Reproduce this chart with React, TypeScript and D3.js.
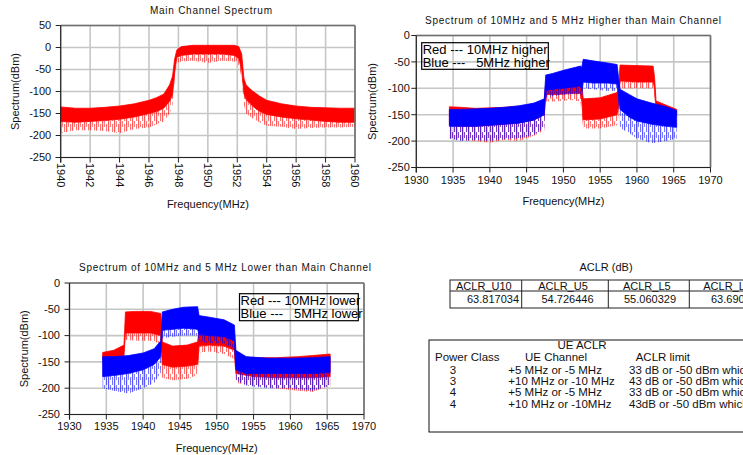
import React from 'react';
import * as d3 from 'd3';

// main channel spectrum (red), envelope: top of dense band, bottom of dense band, lowest spikes
const mainFreq = [1940, 1941, 1942, 1943, 1944, 1945, 1946, 1946.5, 1947, 1947.4, 1947.6, 1947.75, 1947.9, 1948.2, 1949, 1950, 1951, 1951.8, 1952.1, 1952.3, 1952.45, 1952.6, 1953, 1953.5, 1954, 1955, 1956, 1957, 1958, 1959, 1960];
const mainTop = [-135, -138, -138, -136, -133, -128, -120, -114, -106, -85, -65, -25, -5, 2, 5, 5, 5, 5, 2, -15, -70, -85, -98, -110, -120, -128, -133, -136, -137, -138, -138];
const mainBot = [-168, -170, -168, -166, -163, -158, -150, -146, -138, -122, -108, -55, -22, -18, -15, -15, -15, -18, -25, -50, -105, -118, -132, -145, -152, -158, -162, -165, -168, -170, -170];
const mainMin = [-195, -188, -188, -190, -195, -185, -182, -175, -168, -150, -130, -70, -35, -32, -30, -35, -30, -32, -40, -70, -130, -150, -160, -170, -178, -180, -185, -183, -182, -182, -180];

// 10 MHz higher (red) and 5 MHz higher (blue)
const hiRedFreq = [1934.5, 1936, 1938, 1940, 1942, 1944, 1946, 1947.4, 1947.6, 1949, 1951, 1952.3, 1952.5, 1952.7, 1955, 1957.3, 1957.5, 1957.7, 1960, 1962.2, 1962.4, 1962.6, 1964, 1965.4];
const hiRedTop = [-135, -136, -138, -137, -136, -134, -130, -125, -88, -88, -92, -88, -95, -120, -118, -108, -100, -56, -57, -58, -80, -124, -132, -140];
const hiRedBot = [-170, -172, -172, -170, -168, -165, -160, -150, -112, -112, -110, -110, -125, -160, -158, -150, -130, -86, -88, -88, -100, -140, -145, -150];
const hiRedMin = [-195, -198, -200, -203, -198, -200, -190, -180, -125, -125, -122, -125, -150, -176, -176, -170, -150, -100, -100, -100, -120, -150, -150, -155];

const hiBlueFreq = [1934.5, 1936, 1938, 1940, 1942, 1944, 1946, 1947.4, 1947.6, 1948.5, 1950, 1952.3, 1952.5, 1952.7, 1954, 1956, 1957.3, 1957.5, 1957.7, 1959, 1960, 1962, 1964, 1965.4];
const hiBlueTop = [-140, -140, -139, -138, -136, -133, -128, -120, -75, -72, -66, -58, -60, -45, -48, -52, -55, -80, -102, -112, -120, -128, -135, -142];
const hiBlueBot = [-172, -172, -172, -170, -168, -166, -160, -150, -104, -102, -100, -96, -105, -88, -90, -90, -92, -115, -140, -155, -162, -168, -172, -174];
const hiBlueMin = [-195, -200, -198, -200, -196, -195, -188, -175, -118, -115, -112, -110, -120, -100, -102, -105, -105, -135, -175, -185, -195, -204, -200, -195];

// 10 MHz lower (red) and 5 MHz lower (blue)
const loRedFreq = [1934.5, 1936, 1937.4, 1937.6, 1939, 1941, 1942.4, 1942.6, 1944, 1946, 1947.4, 1947.6, 1949, 1951, 1952.4, 1952.6, 1955, 1958, 1961, 1963, 1965.4];
const loRedTop = [-132, -128, -118, -55, -54, -54, -58, -112, -120, -118, -112, -90, -92, -98, -108, -140, -142, -142, -140, -138, -135];
const loRedBot = [-145, -142, -138, -95, -95, -95, -100, -155, -160, -158, -155, -120, -118, -120, -128, -172, -178, -180, -180, -180, -178];
const loRedMin = [-155, -152, -148, -108, -110, -110, -115, -180, -185, -182, -175, -132, -130, -135, -145, -190, -195, -200, -205, -207, -195];

const loBlueFreq = [1934.5, 1936, 1938, 1940, 1941.5, 1942.4, 1942.6, 1944, 1945.5, 1947.4, 1947.6, 1949, 1951, 1952.4, 1952.6, 1954, 1957, 1960, 1963, 1965.4];
const loBlueTop = [-140, -140, -138, -133, -125, -110, -55, -50, -46, -45, -62, -65, -70, -80, -128, -140, -143, -143, -142, -140];
const loBlueBot = [-178, -176, -172, -165, -155, -140, -90, -88, -86, -88, -98, -100, -102, -110, -165, -172, -172, -172, -172, -170];
const loBlueMin = [-200, -205, -210, -200, -190, -170, -105, -102, -100, -100, -112, -114, -115, -125, -185, -195, -200, -200, -205, -195];

const mainXTicks = [1940, 1942, 1944, 1946, 1948, 1950, 1952, 1954, 1956, 1958, 1960];
const mainYTicks = [50, 0, -50, -100, -150, -200, -250];
const adjXTicks = [1930, 1935, 1940, 1945, 1950, 1955, 1960, 1965, 1970];
const adjYTicks = [0, -50, -100, -150, -200, -250];

const aclrHeaders = ['ACLR_U10', 'ACLR_U5', 'ACLR_L5', 'ACLR_L10'];
const aclrValues = ['63.817034', '54.726446', '55.060329', '63.690041'];

const ueClasses = ['3', '3', '4', '4'];
const ueChannels = ['+5 MHz or -5 MHz', '+10 MHz or -10 MHz', '+5 MHz or  -5 MHz', '+10 MHz or -10MHz'];
const ueLimits = [
  '33 dB or -50 dBm whichever is higher',
  '43 dB or -50 dBm whichever is higher',
  '33 dB or -50 dBm whichever is higher',
  '43dB or -50 dBm whichever is higher',
];

const FONT = "'Liberation Sans', Arial, sans-serif";
const RED = '#ff0000';
const BLUE = '#0000ff';

type Trace = { id: string; color: string; freq: number[]; top: number[]; bot: number[]; min: number[] };

type PanelProps = {
  left: number; right: number; top: number; bottom: number;
  xDomain: [number, number]; yDomain: [number, number];
  xTicks: number[]; yTicks: number[];
  traces: Trace[];
  title: string; titleX: number; titleY: number; titleLen: number;
  yLabelGap: number; yTitleX: number; xTitleY: number; xLabelY: number;
  rotateX?: boolean;
  legend?: { x0: number; y0: number; x1: number; y1: number; lines: string[]; baselines: number[] };
};

function Panel(p: PanelProps) {
  const x = d3.scaleLinear().domain(p.xDomain).range([p.left, p.right]);
  const y = d3.scaleLinear().domain(p.yDomain).range([p.bottom, p.top]);
  const band = (t: Trace, hi: number[], lo: number[]) =>
    d3.area<number>()
      .x((f) => x(f))
      .y0((_, i) => y(lo[i]))
      .y1((_, i) => y(hi[i]))(t.freq) || '';
  const midX = (p.left + p.right) / 2;
  const midY = (p.top + p.bottom) / 2;

  return (
    <g fontFamily={FONT}>
      <text x={p.titleX} y={p.titleY} fontSize={10} textAnchor="middle" textLength={p.titleLen} lengthAdjust="spacing" fill="#111">{p.title}</text>
      {/* grid */}
      {p.yTicks.map((v) => (
        <line key={'gy' + v} x1={p.left} x2={p.right} y1={y(v)} y2={y(v)} stroke="#c4c8c4" strokeWidth={1.6} />
      ))}
      {p.xTicks.map((v) => (
        <line key={'gx' + v} x1={x(v)} x2={x(v)} y1={p.top} y2={p.bottom} stroke="#c4c8c4" strokeWidth={1.6} />
      ))}
      {/* spectra: solid dense band + textured spike zone below it */}
      {p.traces.map((t) => {
        const k = t.color === RED ? 'r' : 'b';
        return (
          <g key={t.id}>
            <path d={band(t, t.bot, t.min)} fill={`url(#spk-${k})`} />
            <path d={band(t, t.top, t.bot)} fill={t.color} stroke={t.color} strokeWidth={0.8} />
          </g>
        );
      })}
      {/* frame */}
      <line x1={p.left} x2={p.right} y1={p.top} y2={p.top} stroke="#6e6e6e" strokeWidth={1.6} />
      <line x1={p.right} x2={p.right} y1={p.top} y2={p.bottom} stroke="#6e6e6e" strokeWidth={1.6} />
      <line x1={p.left} x2={p.left} y1={p.top} y2={p.bottom + 5} stroke="#222" strokeWidth={1.2} />
      <line x1={p.left - 5} x2={p.right} y1={p.bottom} y2={p.bottom} stroke="#222" strokeWidth={1.2} />
      {p.yTicks.map((v) => (
        <g key={'ty' + v}>
          <line x1={p.left - 5} x2={p.left} y1={y(v)} y2={y(v)} stroke="#222" />
          <text x={p.left - p.yLabelGap} y={y(v)} dy="0.35em" fontSize={11} textAnchor="end" fill="#111">{v}</text>
        </g>
      ))}
      {p.xTicks.map((v) => (
        <g key={'tx' + v}>
          <line x1={x(v)} x2={x(v)} y1={p.bottom} y2={p.bottom + 5} stroke="#222" />
          {p.rotateX ? (
            <text transform={`translate(${x(v)},${p.xLabelY}) rotate(90)`} dy="0.35em" fontSize={11} fill="#111">{v}</text>
          ) : (
            <text x={x(v)} y={p.xLabelY} fontSize={11} textAnchor="middle" fill="#111">{v}</text>
          )}
        </g>
      ))}
      <text x={midX} y={p.xTitleY} fontSize={11} textAnchor="middle" fill="#111">Frequency(MHz)</text>
      <text transform={`translate(${p.yTitleX},${midY}) rotate(-90)`} fontSize={11} textAnchor="middle" fill="#111">Spectrum(dBm)</text>
      {p.legend && (
        <g>
          <rect x={p.legend.x0} y={p.legend.y0} width={p.legend.x1 - p.legend.x0} height={p.legend.y1 - p.legend.y0} fill="none" stroke="#000" strokeWidth={1.2} />
          {p.legend.lines.map((l, i) => (
            <text key={l} x={p.legend!.x0 + 1} y={p.legend!.baselines[i]} fontSize={13} fill="#000" style={{ whiteSpace: 'pre' }}>{l}</text>
          ))}
        </g>
      )}
    </g>
  );
}

function AclrTable() {
  const cols = [450, 521.7, 608.3, 689.3, 775];
  const valueX = [493, 567.5, 650, 737];
  return (
    <g fontFamily={FONT} fill="#111">
      <text x={606} y={271} fontSize={11} textAnchor="middle">ACLR (dB)</text>
      <rect x={cols[0]} y={280} width={cols[4] - cols[0]} height={28} fill="none" stroke="#222" />
      <line x1={cols[0]} x2={cols[4]} y1={291} y2={291} stroke="#222" />
      {cols.slice(1, 4).map((c) => (
        <line key={c} x1={c} x2={c} y1={280} y2={308} stroke="#222" />
      ))}
      {aclrHeaders.map((h, i) => (
        <text key={h} x={(cols[i] + cols[i + 1]) / 2 - 2} y={290} fontSize={11} textAnchor="middle">{h}</text>
      ))}
      {aclrValues.map((v, i) => (
        <text key={v} x={valueX[i]} y={303} fontSize={11} textAnchor="middle">{v}</text>
      ))}
    </g>
  );
}

function UeTable() {
  const rowY = [373.5, 385, 396.3, 407.5];
  return (
    <g fontFamily={FONT} fill="#111" fontSize={11.5} style={{ whiteSpace: 'pre' }}>
      <rect x={429} y={340} width={400} height={92} fill="none" stroke="#111" />
      <text x={582} y={348.5} textAnchor="middle">UE ACLR</text>
      <text x={435} y={361}>Power Class</text>
      <text x={525} y={361}>UE Channel</text>
      <text x={635.7} y={361}>ACLR limit</text>
      {ueClasses.map((c, i) => (
        <g key={i}>
          <text x={453} y={rowY[i]} textAnchor="middle">{c}</text>
          <text x={508.3} y={rowY[i]}>{ueChannels[i]}</text>
          <text x={629} y={rowY[i]}>{ueLimits[i]}</text>
        </g>
      ))}
    </g>
  );
}

export default function App() {
  const mainTrace: Trace = { id: 'main', color: RED, freq: mainFreq, top: mainTop, bot: mainBot, min: mainMin };
  const hiTraces: Trace[] = [
    { id: 'hr', color: RED, freq: hiRedFreq, top: hiRedTop, bot: hiRedBot, min: hiRedMin },
    { id: 'hb', color: BLUE, freq: hiBlueFreq, top: hiBlueTop, bot: hiBlueBot, min: hiBlueMin },
  ];
  const loTraces: Trace[] = [
    { id: 'lr', color: RED, freq: loRedFreq, top: loRedTop, bot: loRedBot, min: loRedMin },
    { id: 'lb', color: BLUE, freq: loBlueFreq, top: loBlueTop, bot: loBlueBot, min: loBlueMin },
  ];

  // texture for the sparse spike zone under each dense band
  const spike = (id: string, c: string) => (
    <pattern id={id} width={6} height={11} patternUnits="userSpaceOnUse">
      <rect x={0} y={0} width={1.2} height={11} fill={c} opacity={0.65} />
      <rect x={2} y={0} width={1} height={6} fill={c} opacity={0.5} />
      <rect x={4} y={3} width={1.1} height={8} fill={c} opacity={0.55} />
    </pattern>
  );

  return (
    <svg width={743} height={455} style={{ position: 'fixed', left: 0, top: 0, background: '#fff' }}>
      <defs>
        {spike('spk-r', RED)}
        {spike('spk-b', BLUE)}
      </defs>
      <rect width={743} height={455} fill="#fff" />
      <Panel
        left={60.7} right={355} top={25.5} bottom={157.5}
        xDomain={[1940, 1960]} yDomain={[-250, 50]}
        xTicks={mainXTicks} yTicks={mainYTicks}
        traces={[mainTrace]}
        title="Main Channel Spectrum" titleX={211} titleY={14} titleLen={122}
        yLabelGap={9.5} yTitleX={19} xTitleY={208} xLabelY={163} rotateX
      />
      <Panel
        left={416.3} right={710.5} top={35.5} bottom={167.5}
        xDomain={[1930, 1970]} yDomain={[-250, 0]}
        xTicks={adjXTicks} yTicks={adjYTicks}
        traces={hiTraces}
        title="Spectrum of 10MHz and 5 MHz Higher than Main Channel" titleX={573} titleY={24} titleLen={296}
        yLabelGap={6.5} yTitleX={376} xTitleY={205} xLabelY={184}
        legend={{ x0: 421.7, y0: 42.7, x1: 548.3, y1: 69.3, lines: ['Red --- 10MHz higher', 'Blue ---   5MHz higher'], baselines: [54, 66.5] }}
      />
      <Panel
        left={69.5} right={364} top={283} bottom={414.5}
        xDomain={[1930, 1970]} yDomain={[-250, 0]}
        xTicks={adjXTicks} yTicks={adjYTicks}
        traces={loTraces}
        title="Spectrum of 10MHz and 5 MHz Lower than Main Channel" titleX={225} titleY={270.5} titleLen={292}
        yLabelGap={9.5} yTitleX={28} xTitleY={452} xLabelY={430}
        legend={{ x0: 239.5, y0: 293.7, x1: 358.3, y1: 320.7, lines: ['Red --- 10MHz lower', 'Blue ---   5MHz lower'], baselines: [304.5, 317.5] }}
      />
      <AclrTable />
      <UeTable />
    </svg>
  );
}
